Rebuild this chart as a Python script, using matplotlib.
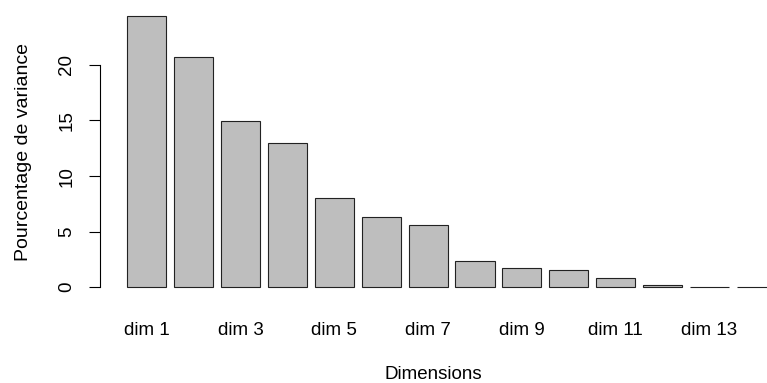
import numpy as np
import matplotlib
matplotlib.use("Agg")
from matplotlib import pyplot as plt

# variance explained by each dimension (%)
dims = ["dim %d" % i for i in range(1, 15)]
variance = [24.42, 20.68, 14.97, 12.95, 8.06, 6.32, 5.60,
            2.37, 1.71, 1.56, 0.84, 0.21, 0.02, 0.02]
yticks = [0, 5, 10, 15, 20]

plt.rcParams['font.family'] = ['Liberation Sans', 'DejaVu Sans']
fs = 13.5

W, H = 767, 383
fig = plt.figure(figsize=(W / 100, H / 100), dpi=100)
ax = fig.add_axes([100.5 / W, (H - 298.1) / H, 1 - 100.5 / W, (298.1 - 5.1) / H])

# barplot layout: width 1, space 0.2
centers = 0.7 + 1.2 * np.arange(len(variance))
ax.bar(centers, variance, width=1.0, color="#bebebe", edgecolor="#222222", linewidth=0.8)

ax.set_xlim(-0.48, 16.57)
ax.set_ylim(-0.976, 25.38)

for s in ["top", "right", "bottom"]:
    ax.spines[s].set_visible(False)
ax.spines["left"].set_bounds(0, 20)
ax.spines["left"].set_linewidth(0.8)

ax.set_yticks(yticks)
ax.set_yticklabels([str(t) for t in yticks], rotation=90, va="center", fontsize=fs)
ax.tick_params(axis="y", length=8, width=0.8, pad=10)

ax.set_xticks(centers[::2])
ax.set_xticklabels(dims[::2], fontsize=fs)
ax.tick_params(axis="x", length=0, pad=17)

ax.set_xlabel("Dimensions", fontsize=fs, labelpad=20)
ax.set_ylabel("Pourcentage de variance", fontsize=14, labelpad=19)

fig.savefig("out.png", dpi=100)
